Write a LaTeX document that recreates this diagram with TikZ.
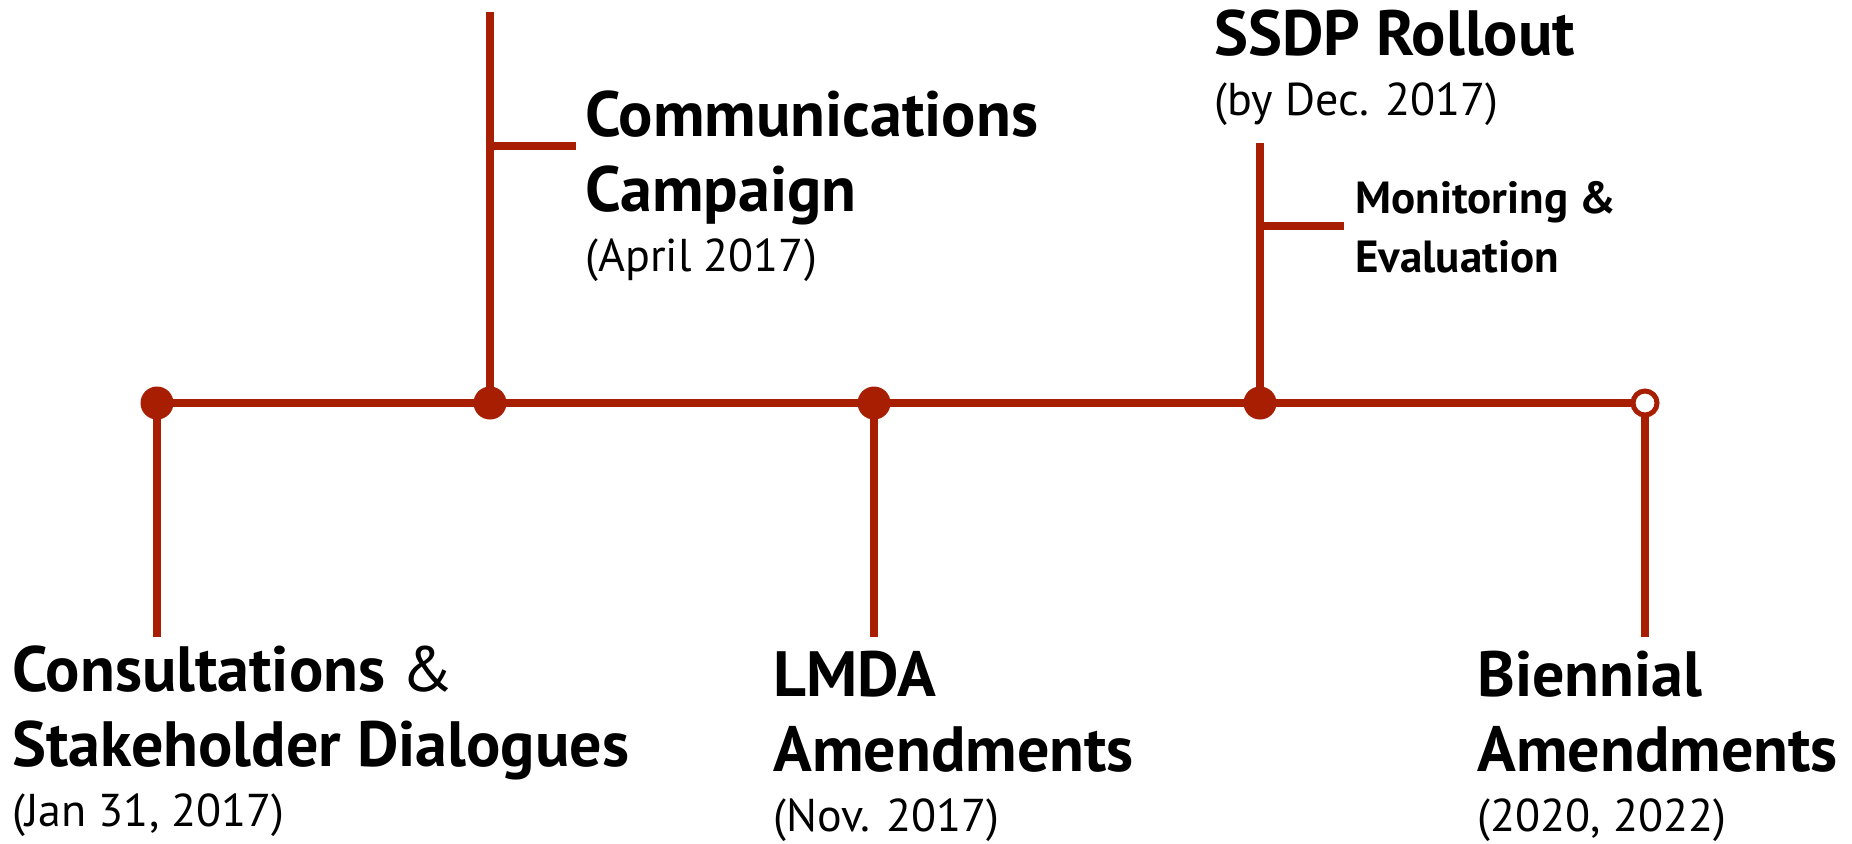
\documentclass[tikz,border=0pt]{standalone}
\usepackage{fontspec}
\setmainfont{PT Sans}
\usetikzlibrary{positioning}
\definecolor{tlred}{RGB}{167,30,3}
\newcommand{\datefont}{\fontsize{23}{27}\selectfont\mdseries}

\begin{document}
\begin{tikzpicture}[x=0.5pt, y=-0.5pt,
  tl/.style={draw=tlred, line width=4pt},
  dot/.style={circle, fill=tlred, minimum size=16.5pt, inner sep=0pt},
  opendot/.style={circle, draw=tlred, fill=white, line width=2.5pt, minimum size=12pt, inner sep=0pt},
  lbl/.style={align=left, anchor=base west, inner sep=0pt, font=\fontsize{32}{37.5}\selectfont\bfseries},
  smalllbl/.style={lbl, font=\fontsize{22.5}{29.5}\selectfont\bfseries}]
\useasboundingbox (0,0) rectangle (1852,843);

% milestones on the time line
\foreach \n/\x in {cons/157,comms/490,lmda/874,ssdp/1260} \coordinate (\n-c) at (\x,403);
\coordinate (bien-c) at (1645,403);

% stems up and down
\foreach \n/\x in {cons/157,lmda/874,bien/1645} \coordinate (\n-end) at (\x,637);
\coordinate (comms-end) at (490,12); \coordinate (ssdp-end) at (1260,143);
\foreach \n in {cons,comms,lmda,ssdp,bien} \draw[tl] (\n-c) -- (\n-end);

% side branches
\coordinate (comms-br) at (490,146); \coordinate (comms-br-end) at (576,146);
\coordinate (ssdp-br) at (1260,226); \coordinate (ssdp-br-end) at (1344,226);
\draw[tl] (comms-br) -- (comms-br-end); \draw[tl] (ssdp-br) -- (ssdp-br-end);

\draw[tl] (cons-c) -- (bien-c);
\foreach \n in {cons,comms,lmda,ssdp} \node[dot] (\n) at (\n-c) {};
\node[opendot] (bien) at (bien-c) {};

% labels (anchored on the baseline of their last line)
\node[lbl] (cons-lbl) at (12,826) {Consultations {\mdseries\&}\\Stakeholder Dialogues\\[-7.5pt]{\datefont (Jan 31, 2017)}};
\node[lbl] (comms-lbl) at (585,271) {Communications\\Campaign\\[-7.5pt]{\datefont (April 2017)}};
\node[lbl] (lmda-lbl) at (773,831) {LMDA\\Amendments\\[-7.5pt]{\datefont (Nov. 2017)}};
\node[lbl] (ssdp-lbl) at (1214,115) {SSDP Rollout\\[-7.5pt]{\datefont (by Dec. 2017)}};
\node[smalllbl] (me-lbl) at (1355,272) {Monitoring \&\\Evaluation};
\node[lbl] (bien-lbl) at (1477,831) {Biennial\\Amendments\\[-7.5pt]{\datefont (2020, 2022)}};
\end{tikzpicture}
\end{document}
